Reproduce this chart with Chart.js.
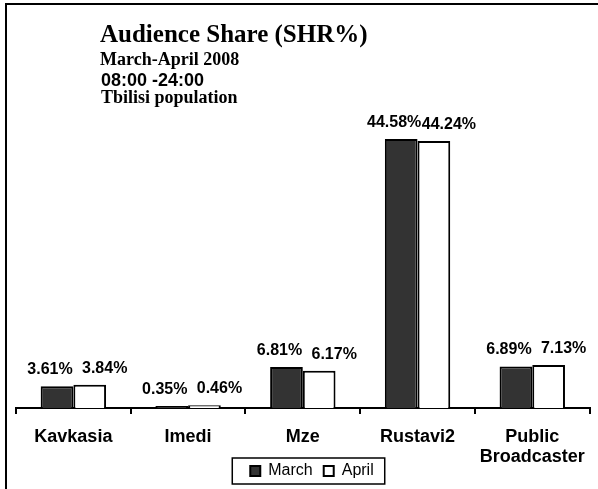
<!DOCTYPE html>
<html><head><meta charset="utf-8">
<script src="https://cdn.jsdelivr.net/npm/chart.js@4.4.1/dist/chart.umd.min.js"></script>
<style>
html,body{margin:0;padding:0;background:#fff;}
#wrap{position:relative;width:598px;height:489px;overflow:hidden;}
#frame{position:absolute;left:5px;top:3px;width:600px;height:484px;border-top:2px solid #000;border-left:2px solid #000;border-bottom:1px solid #8c8c8c;}
canvas{position:absolute;left:0;top:0;}
.t{position:absolute;white-space:nowrap;color:#000;font-weight:bold;line-height:1;}
</style></head><body>
<div id="wrap">
<div id="frame"></div>
<canvas id="c" width="598" height="489"></canvas>
<div class="t" style="left:100px;top:21px;font-family:'Liberation Serif';font-size:25px;line-height:1;">Audience Share (SHR%)</div>
<div class="t" style="left:100px;top:50px;font-family:'Liberation Serif';font-size:18px;line-height:1;">March-April 2008</div>
<div class="t" style="left:101px;top:71px;font-family:'Liberation Sans';font-size:18px;line-height:1;">08:00 -24:00</div>
<div class="t" style="left:101px;top:88px;font-family:'Liberation Serif';font-size:18px;line-height:1;">Tbilisi population</div>
</div>
<script>
const categories = ['Kavkasia', 'Imedi', 'Mze', 'Rustavi2', ['Public', 'Broadcaster']];
const seriesNames = ['March', 'April'];
const marchValues = [3.61, 0.35, 6.81, 44.58, 6.89];
const aprilValues = [3.84, 0.46, 6.17, 44.24, 7.13];

const labelOffsets = [-7, 15];

const valueLabels = {
  id: 'valueLabels',
  afterDatasetsDraw(chart) {
    const ctx = chart.ctx;
    ctx.save();
    ctx.font = 'bold 16px "Liberation Sans"';
    ctx.fillStyle = '#000';
    ctx.textAlign = 'center';
    ctx.textBaseline = 'alphabetic';
    chart.data.datasets.forEach((ds, di) => {
      const meta = chart.getDatasetMeta(di);
      meta.data.forEach((bar, i) => {
        const v = ds.data[i];
        ctx.fillText(v.toFixed(2) + '%', bar.x + labelOffsets[di], bar.y - 12);
      });
    });
    ctx.restore();
  }
};

const legendShift = {
  id: 'legendShift',
  afterLayout(chart) {
    if (chart.legend) { chart.legend.left += 6; chart.legend.right += 6; }
  }
};

const legendFrame = {
  id: 'legendFrame',
  afterDraw(chart) {
    const lg = chart.legend;
    if (!lg || !lg.legendHitBoxes || !lg.legendHitBoxes.length) return;
    const hb = lg.legendHitBoxes;
    const first = hb[0], last = hb[hb.length - 1];
    const cy = first.top + first.height / 2;
    const ctx = chart.ctx;
    ctx.save();
    ctx.strokeStyle = '#000';
    ctx.lineWidth = 1.5;
    const l = first.left - 18, r = last.left + last.width + 11;
    ctx.strokeRect(l, cy - 13, r - l, 26);
    ctx.restore();
  }
};

new Chart(document.getElementById('c'), {
  type: 'bar',
  data: {
    labels: categories,
    datasets: [
      { label: seriesNames[0], data: marchValues, backgroundColor: '#333333', borderColor: '#000', borderWidth: 2, categoryPercentage: 0.57, barPercentage: 1 },
      { label: seriesNames[1], data: aprilValues, backgroundColor: '#ffffff', borderColor: '#000', borderWidth: 2, categoryPercentage: 0.57, barPercentage: 1 }
    ]
  },
  options: {
    responsive: false,
    animation: false,
    devicePixelRatio: 1,
    layout: { padding: { left: 16, right: 2, top: 108, bottom: 0 } },
    scales: {
      x: {
        grid: { display: true, drawOnChartArea: false, drawTicks: true, tickLength: 6, color: '#000', lineWidth: 2, offset: true },
        border: { display: true, color: '#000', width: 2 },
        ticks: { color: '#000', font: { family: 'Liberation Sans', size: 18, weight: 'bold', lineHeight: 1.1 }, padding: 13, maxRotation: 0, autoSkip: false },
        afterFit(s) { s.height = 44; s._computeLabelArea = () => undefined; }
      },
      y: { display: false, min: 0, max: 49.7 }
    },
    plugins: {
      legend: { position: 'bottom', labels: { boxWidth: 10, boxHeight: 10, padding: 11, color: '#000', font: { family: 'Liberation Sans', size: 16 } } },
      tooltip: { enabled: false }
    }
  },
  plugins: [valueLabels, legendShift, legendFrame]
});
</script>
</body></html>
